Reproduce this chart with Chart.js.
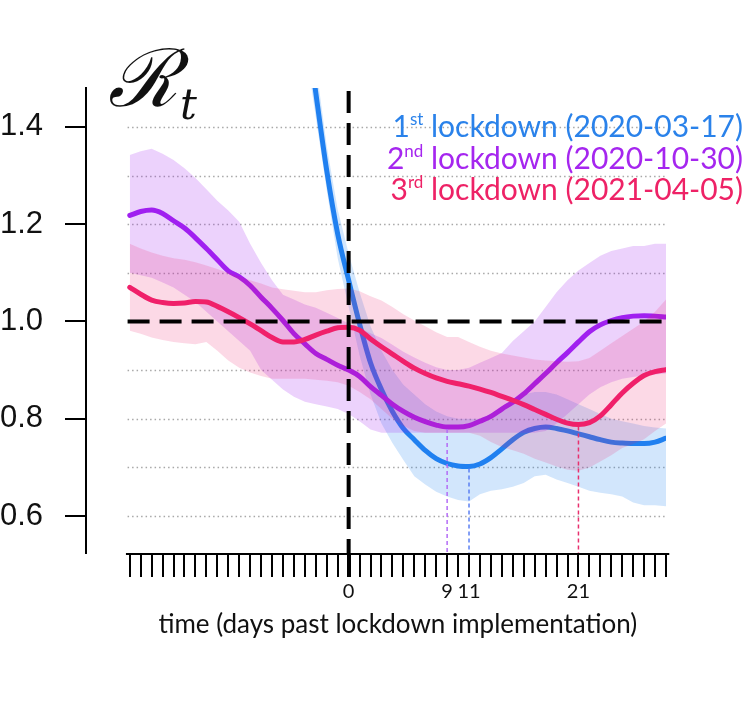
<!DOCTYPE html>
<html>
<head>
<meta charset="utf-8">
<script src="https://cdn.jsdelivr.net/npm/chart.js@4/dist/chart.umd.min.js"></script>
<style>
  html,body{margin:0;padding:0;background:#fff;}
  canvas{display:block;}
</style>
</head>
<body>
<canvas id="rt" width="754" height="709"></canvas>
<script>
// days since lockdown, -20 .. 29
const days = [];
for (let d = -20; d <= 29; d++) days.push(d);

// 1st lockdown (2020-03-17), starts at day -6 (curve comes down from above the frame)
const blueDays  = [-6,-5,-4,-3,-2,-1,0,1,2,3,4,5,6,7,8,9,10,11,12,13,14,15,16,17,18,19,20,21,22,23,24,25,26,27,28,29];
const blueMean  = [2.08,1.84,1.64,1.47,1.31,1.18,1.085,0.995,0.915,0.86,0.815,0.78,0.757,0.735,0.718,0.708,0.703,0.702,0.707,0.72,0.738,0.757,0.772,0.78,0.783,0.78,0.775,0.769,0.763,0.757,0.752,0.75,0.749,0.749,0.752,0.76];
const blueLow   = [1.95,1.75,1.57,1.42,1.27,1.13,1.03,0.93,0.85,0.79,0.75,0.715,0.682,0.665,0.65,0.64,0.633,0.63,0.645,0.652,0.655,0.66,0.668,0.682,0.685,0.675,0.668,0.66,0.652,0.648,0.645,0.64,0.628,0.622,0.622,0.62];
const blueHigh  = [2.2,1.93,1.72,1.53,1.36,1.23,1.14,1.06,0.99,0.94,0.9,0.87,0.85,0.83,0.815,0.805,0.8,0.8,0.8,0.81,0.825,0.84,0.85,0.855,0.855,0.85,0.84,0.83,0.82,0.81,0.8,0.795,0.79,0.785,0.782,0.78];

// 2nd lockdown (2020-10-30)
const purpleMean = [1.218,1.226,1.229,1.222,1.207,1.192,1.172,1.15,1.127,1.104,1.092,1.074,1.05,1.027,1.002,0.975,0.954,0.934,0.922,0.91,0.9,0.887,0.866,0.848,0.83,0.815,0.803,0.794,0.787,0.783,0.783,0.786,0.795,0.805,0.82,0.834,0.851,0.872,0.893,0.915,0.936,0.958,0.979,0.993,1.002,1.008,1.011,1.012,1.011,1.009];
const purpleLow  = [1.1,1.095,1.09,1.08,1.07,1.055,1.04,1.02,1.0,0.98,0.96,0.94,0.9,0.88,0.86,0.845,0.835,0.83,0.825,0.82,0.81,0.795,0.778,0.771,0.771,0.771,0.771,0.771,0.771,0.771,0.771,0.771,0.771,0.771,0.771,0.771,0.771,0.771,0.775,0.79,0.81,0.83,0.85,0.865,0.875,0.882,0.886,0.889,0.891,0.893];
const purpleHigh = [1.342,1.35,1.355,1.345,1.332,1.315,1.295,1.272,1.248,1.228,1.205,1.16,1.12,1.085,1.055,1.045,1.035,1.028,1.018,1.007,0.996,0.986,0.976,0.966,0.952,0.938,0.926,0.915,0.906,0.9,0.9,0.905,0.915,0.925,0.935,0.96,0.98,1.0,1.03,1.06,1.085,1.105,1.12,1.135,1.145,1.15,1.155,1.155,1.16,1.16];

// 3rd lockdown (2021-04-05)
const pinkMean = [1.07,1.056,1.044,1.039,1.037,1.038,1.041,1.04,1.031,1.02,1.008,0.995,0.981,0.967,0.958,0.958,0.963,0.972,0.98,0.987,0.988,0.982,0.964,0.948,0.933,0.918,0.904,0.893,0.884,0.877,0.872,0.867,0.861,0.854,0.846,0.838,0.829,0.819,0.809,0.799,0.791,0.788,0.792,0.806,0.829,0.853,0.873,0.889,0.897,0.901];
const pinkLow  = [0.981,0.975,0.967,0.962,0.958,0.955,0.953,0.958,0.94,0.92,0.905,0.895,0.888,0.882,0.882,0.882,0.882,0.88,0.878,0.875,0.868,0.855,0.84,0.82,0.8,0.785,0.775,0.771,0.771,0.771,0.771,0.771,0.765,0.752,0.742,0.735,0.728,0.718,0.71,0.702,0.695,0.693,0.7,0.712,0.725,0.74,0.748,0.758,0.775,0.79];
const pinkHigh = [1.16,1.15,1.142,1.135,1.13,1.127,1.122,1.115,1.108,1.1,1.093,1.085,1.078,1.07,1.066,1.063,1.06,1.06,1.064,1.067,1.068,1.062,1.052,1.043,1.03,1.015,1.002,0.99,0.978,0.968,0.968,0.958,0.948,0.94,0.934,0.93,0.926,0.922,0.92,0.918,0.917,0.918,0.925,0.94,0.955,0.97,0.985,1.0,1.02,1.045];

// day of the minimum for each lockdown
const minDays   = [11, 9, 21];
const xLabelDays = [0, 9, 11, 21];
const yTickVals = [0.6, 0.8, 1.0, 1.2, 1.4];
const yGridVals = [0.6, 0.7, 0.8, 0.9, 1.1, 1.2, 1.3, 1.4];

const legendRows = [
  {num:"1", sup:"st", rest:" lockdown (2020-03-17)", color:"#2a82ea"},
  {num:"2", sup:"nd", rest:" lockdown (2020-10-30)", color:"#a526ef"},
  {num:"3", sup:"rd", rest:" lockdown (2021-04-05)", color:"#ee2266"}
];

const BLUE = "rgb(32,128,240)", PURPLE = "rgb(160,32,240)", PINK = "rgb(240,32,106)";

function pts(xs, ys){ return xs.map((x,i)=>({x:x, y:ys[i]})); }

function bandSets(xs, lo, hi, fillCol, ord){
  return [
    {data:pts(xs,lo), borderWidth:0, pointRadius:0, fill:false, tension:0, order:ord+1},
    {data:pts(xs,hi), borderWidth:0, pointRadius:0, fill:'-1', backgroundColor:fillCol, tension:0, order:ord}
  ];
}
function lineSet(xs, ys, col, ord){
  return {data:pts(xs,ys), borderColor:col, borderWidth:5, pointRadius:0, fill:false,
    cubicInterpolationMode:'monotone', order:ord, borderCapStyle:'round'};
}

const datasets = [
  ...bandSets(blueDays, blueLow, blueHigh, "rgba(32,128,240,0.2)", 11),
  lineSet(blueDays, blueMean, BLUE, 10),
  ...bandSets(days, purpleLow, purpleHigh, "rgba(160,32,240,0.2)", 8),
  lineSet(days, purpleMean, PURPLE, 7),
  ...bandSets(days, pinkLow, pinkHigh, "rgba(240,32,106,0.17)", 5),
  lineSet(days, pinkMean, PINK, 4)
];

function valAt(xs, ys, d){ return ys[xs.indexOf(d)]; }

// === extras: dotted grid, dashed reference lines, labels ===
const extras = {
  id:'extras',
  beforeDatasetsDraw(chart){
    const {ctx, scales:{x,y}} = chart;
    ctx.save();
    ctx.strokeStyle = "#a8a8a8"; ctx.lineWidth = 1.4; ctx.setLineDash([1.5,3]);
    yGridVals.forEach(v=>{
      const py = Math.round(y.getPixelForValue(v)) + 0.5;
      ctx.beginPath(); ctx.moveTo(x.getPixelForValue(-20.2), py); ctx.lineTo(x.getPixelForValue(29), py); ctx.stroke();
    });
    ctx.restore();
  },
  afterDatasetsDraw(chart){
    const {ctx, scales:{x,y}, chartArea} = chart;
    ctx.save();
    // minimum markers
    const mins = [
      {d:minDays[0], v:valAt(blueDays, blueMean, minDays[0]), c:"#5b80f2"},
      {d:minDays[1], v:valAt(days, purpleMean, minDays[1]), c:"#b46cf6"},
      {d:minDays[2], v:valAt(days, pinkMean, minDays[2]), c:"#e8306e"}
    ];
    ctx.lineWidth = 1.5; ctx.setLineDash([4,3]);
    mins.forEach(m=>{
      const px = x.getPixelForValue(m.d);
      ctx.strokeStyle = m.c;
      ctx.beginPath(); ctx.moveTo(px, y.getPixelForValue(m.v)+2); ctx.lineTo(px, chartArea.bottom); ctx.stroke();
    });
    // R = 1 and lockdown day
    ctx.strokeStyle = "#000"; ctx.lineWidth = 4; ctx.setLineDash([22,10]);
    const p1 = y.getPixelForValue(1.0);
    ctx.beginPath(); ctx.moveTo(x.getPixelForValue(-20.2), p1); ctx.lineTo(x.getPixelForValue(29), p1); ctx.stroke();
    const p0 = x.getPixelForValue(0);
    ctx.beginPath(); ctx.moveTo(p0, chartArea.top + 3); ctx.lineTo(p0, chartArea.bottom); ctx.stroke();
    ctx.restore();
  },
  afterDraw(chart){
    const {ctx, scales:{x,y}, chartArea} = chart;
    ctx.save();
    // x axis line, detached from y axis
    ctx.strokeStyle = "#000"; ctx.lineWidth = 2;
    ctx.beginPath(); ctx.moveTo(x.getPixelForValue(-20.35), chartArea.bottom + 1); ctx.lineTo(x.getPixelForValue(29.3), chartArea.bottom + 1); ctx.stroke();

    // x title
    ctx.fillStyle = "#111"; ctx.font = "26px Lato"; ctx.textAlign = "center"; ctx.textBaseline = "alphabetic";
    ctx.fillText("time (days past lockdown implementation)", x.getPixelForValue(4.5), 633);

    // R_t
    ctx.textAlign = "left";
    ctx.font = "italic 80px 'DejaVu Serif'";
    ctx.fillText("\u211B", 108, 106);
    ctx.font = "italic 42px 'DejaVu Serif'";
    ctx.fillText("t", 180, 119);

    // legend, right aligned
    const right = 743, base = [137, 169, 200];
    legendRows.forEach((r,i)=>{
      ctx.font = "30px Lato"; const wn = ctx.measureText(r.num).width, wr = ctx.measureText(r.rest).width;
      ctx.font = "17px Lato"; const ws = ctx.measureText(r.sup).width;
      let xx = right - wn - ws - wr;
      ctx.fillStyle = r.color;
      ctx.font = "30px Lato"; ctx.fillText(r.num, xx, base[i]); xx += wn;
      ctx.font = "17px Lato"; ctx.fillText(r.sup, xx, base[i]-12); xx += ws;
      ctx.font = "30px Lato"; ctx.fillText(r.rest, xx, base[i]);
    });
    ctx.restore();
  }
};

new Chart(document.getElementById("rt"), {
  type:'line',
  data:{datasets:datasets},
  options:{
    responsive:false, animation:false,
    layout:{padding:{top:88, right:88, left:0, bottom:0}},
    plugins:{legend:{display:false}, tooltip:{enabled:false}},
    scales:{
      x:{
        type:'linear', min:-24, max:29,
        border:{display:false},
        grid:{drawOnChartArea:false, drawTicks:true, tickLength:24, color:"#000",
          lineWidth:c => (c.tick && c.tick.value === 0 ? 4 : 2)},
        ticks:{stepSize:1, autoSkip:false, maxRotation:0, padding:3, color:"#111",
          font:{family:"Lato", size:20},
          callback:v => xLabelDays.includes(v) ? String(v) : ''},
        afterBuildTicks:s => { s.ticks = s.ticks.filter(t => t.value >= -20); },
        afterFit:s => { s.height = 709 - 553; }
      },
      y:{
        type:'linear', min:0.524, max:1.48,
        border:{display:true, color:"#000", width:2},
        grid:{drawOnChartArea:false, drawTicks:true, tickLength:21, color:"#000", lineWidth:2},
        ticks:{padding:22, color:"#111", font:{family:"'Liberation Sans'", size:31},
          callback:v => v.toFixed(1)},
        afterBuildTicks:s => { s.ticks = yTickVals.map(v => ({value:v})); },
        afterFit:s => { s.width = 86; }
      }
    }
  },
  plugins:[extras]
});
</script>
</body>
</html>
